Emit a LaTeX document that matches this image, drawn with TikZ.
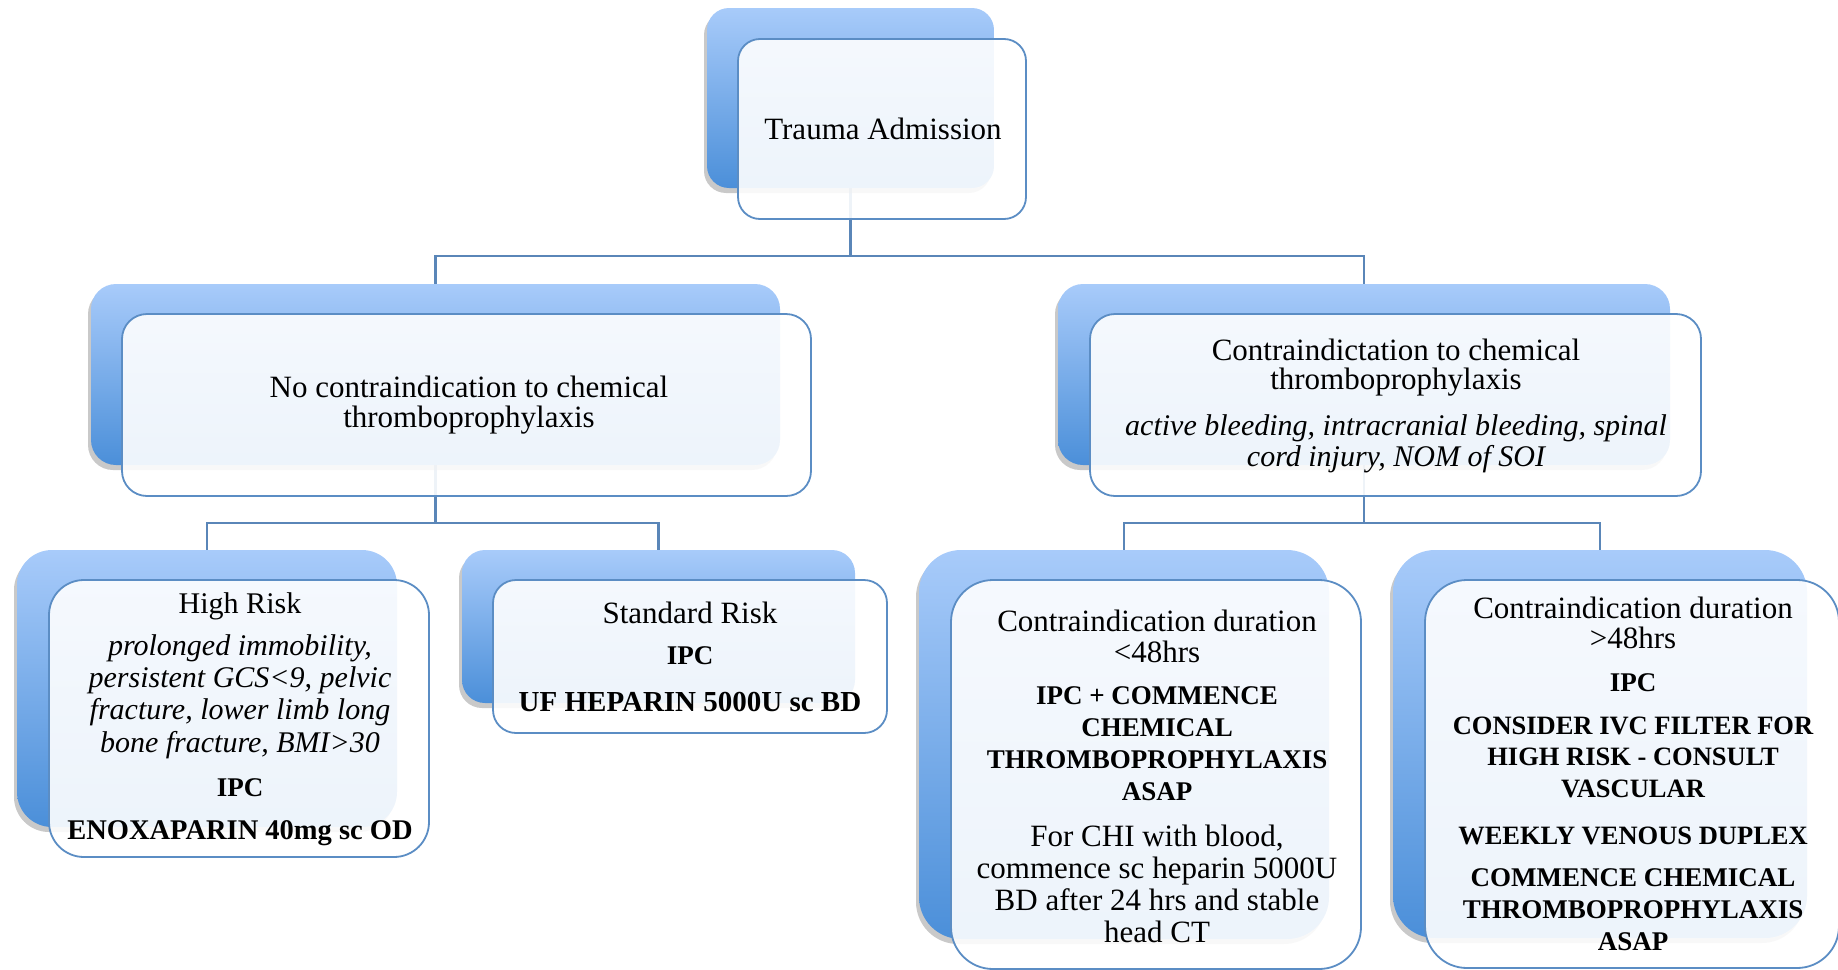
\documentclass[tikz,border=0pt]{standalone}
\usepackage{fontspec}
\setmainfont{Liberation Serif}
\usetikzlibrary{shadows,fit}
\definecolor{gtop}{HTML}{A8CBFA}
\definecolor{gbot}{HTML}{4B8FD9}
\definecolor{edgec}{HTML}{5B8DC4}
\definecolor{connc}{HTML}{5A86B8}
\newcommand\fsz[2]{\fontsize{#1}{#2}\selectfont}
\tikzset{
  backbox/.style={rectangle, rounded corners=#1, top color=gtop, bottom color=gbot,
    draw=none, inner sep=0pt,
    drop shadow={shadow xshift=-3pt, shadow yshift=-5pt, opacity=0.3, fill=black!70}},
  frontbox/.style={rectangle, rounded corners=#1, fill=white, fill opacity=0.9,
    draw=edgec, draw opacity=1, line width=1.8pt, inner sep=0pt},
  connline/.style={draw=connc, line width=2.2pt},
  txt/.style={align=center, inner sep=0pt, text=black},
  regtxt/.style={txt, font=\fsz{31}{31.5}},
  ittxt/.style={txt, font=\fsz{30}{32.3}\itshape},
  bftxt/.style={txt, font=\fsz{27}{32}\bfseries},
}
\begin{document}
\begin{tikzpicture}[x=1pt, y=-1pt]
\useasboundingbox (0,0) rectangle (1838,969);

\coordinate (j0) at (850,256);
\coordinate (j1) at (435.5,523);
\coordinate (j2) at (1364,523);

\path (707,8) coordinate (b0nw) (994,188) coordinate (b0se);
\path (91,284) coordinate (b1nw) (780,465) coordinate (b1se);
\path (1058,284) coordinate (b2nw) (1670,465) coordinate (b2se);
\path (17,550) coordinate (b3nw) (397,827) coordinate (b3se);
\path (462,550) coordinate (b4nw) (855,703) coordinate (b4se);
\path (919,550) coordinate (b5nw) (1329,939) coordinate (b5se);
\path (1393,550) coordinate (b6nw) (1807,938) coordinate (b6se);

\node[fit=(b0nw)(b0se), inner sep=0pt] (c0) {};
\node[fit=(b1nw)(b1se), inner sep=0pt] (c1) {};
\node[fit=(b2nw)(b2se), inner sep=0pt] (c2) {};
\node[fit=(b3nw)(b3se), inner sep=0pt] (c3) {};
\node[fit=(b4nw)(b4se), inner sep=0pt] (c4) {};
\node[fit=(b5nw)(b5se), inner sep=0pt] (c5) {};
\node[fit=(b6nw)(b6se), inner sep=0pt] (c6) {};

% connectors drawn first (they show faintly through the front boxes)
\draw[connline] (c0.center) -- (c0.center |- j0);
\draw[connline] (c1.north) |- (j0) -| (c2.north);
\draw[connline] (c1.center) -- (j1);
\draw[connline] (c3.north) |- (j1) -| (c4.north);
\draw[connline] (c2.center) -- (j2);
\draw[connline] (c5.north) |- (j2) -| (c6.north);

% ---- box pairs ----
\node[backbox=22pt, fit=(b0nw)(b0se)] (b0) {};
\node[frontbox=22pt, fit={(738,39)(1026,219)}] (f0) {};

\node[backbox=25pt, fit=(b1nw)(b1se)] (b1) {};
\node[frontbox=25pt, fit={(122,314)(811,496)}] (f1) {};

\node[backbox=25pt, fit=(b2nw)(b2se)] (b2) {};
\node[frontbox=25pt, fit={(1090,314)(1701,496)}] (f2) {};

\node[backbox=35pt, fit=(b3nw)(b3se)] (b3) {};
\node[frontbox=35pt, fit={(49,580)(429,857)}] (f3) {};

\node[backbox=23pt, fit=(b4nw)(b4se)] (b4) {};
\node[frontbox=23pt, fit={(493,580)(887,733)}] (f4) {};

\node[backbox=42pt, fit=(b5nw)(b5se)] (b5) {};
\node[frontbox=42pt, fit={(951,580)(1361,969)}] (f5) {};

\node[backbox=42pt, fit=(b6nw)(b6se)] (b6) {};
\node[frontbox=42pt, fit={(1425,580)(1839,968)}] (f6) {};

% ---- texts ----
\node[regtxt] (t0) at (883,129) {Trauma Admission};

\node[txt, font=\fsz{31}{29.5}] (t1) at (469,405)
  {No contraindication to chemical\\thromboprophylaxis};

\node[txt, font=\fsz{31}{29.5}] (t2a) at (1396,367.5)
  {Contraindictation to chemical\\thromboprophylaxis};
\node[txt, font=\fsz{30}{31}\itshape] (t2b) at (1396,443.5)
  {active bleeding, intracranial bleeding, spinal\\cord injury, NOM of SOI};

\node[txt, font=\fsz{30}{31}] (t3a) at (240,606) {High Risk};
\node[ittxt] (t3b) at (240,696.5)
  {prolonged immobility,\\persistent GCS<9, pelvic\\fracture, lower limb long\\bone fracture, BMI>30};
\node[bftxt] (t3c) at (240,788) {IPC};
\node[bftxt, font=\fsz{28.5}{32}\bfseries] (t3d) at (240,833) {ENOXAPARIN 40mg sc OD};

\node[regtxt] (t4a) at (690,613) {Standard Risk};
\node[bftxt] (t4b) at (690,656) {IPC};
\node[bftxt, font=\fsz{29}{32}\bfseries] (t4c) at (690,702) {UF HEPARIN 5000U sc BD};

\node[regtxt] (t5a) at (1157,636.5) {Contraindication duration\\<48hrs};
\node[bftxt] (t5b) at (1157,744) {IPC + COMMENCE\\CHEMICAL\\THROMBOPROPHYLAXIS\\ASAP};
\node[txt, font=\fsz{31}{32}] (t5c) at (1157,884) {For CHI with blood,\\commence sc heparin 5000U\\BD after 24 hrs and stable\\head CT};

\node[txt, font=\fsz{31}{30}] (t6a) at (1633,623) {Contraindication duration\\>48hrs};
\node[bftxt] (t6b) at (1633,683) {IPC};
\node[bftxt, font=\fsz{26.5}{31.5}\bfseries] (t6c) at (1633,757.3) {CONSIDER IVC FILTER FOR\\HIGH RISK - CONSULT\\VASCULAR};
\node[bftxt, font=\fsz{26.5}{31.5}\bfseries] (t6d) at (1633,836) {WEEKLY VENOUS DUPLEX};
\node[bftxt] (t6e) at (1633,909.3) {COMMENCE CHEMICAL\\THROMBOPROPHYLAXIS\\ASAP};
\end{tikzpicture}
\end{document}
